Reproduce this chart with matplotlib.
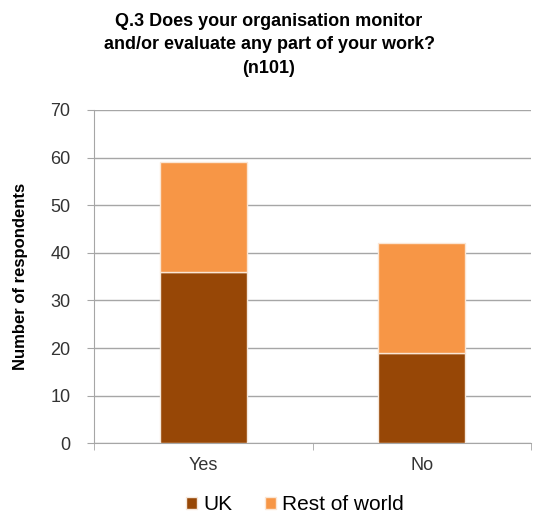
import numpy as np
import matplotlib.pyplot as plt

plt.rcParams['font.family'] = ['Liberation Sans', 'DejaVu Sans']

categories = ['Yes', 'No']
uk = [36, 19]
rest_of_world = [23, 23]

fig = plt.figure(figsize=(5.38, 5.16), dpi=100)
ax = fig.add_axes([0.175, 0.141, 0.812, 0.646])

x = np.arange(len(categories))
ax.bar(x, uk, width=0.4, color='#974706', edgecolor='#f5e8dc', linewidth=1, label='UK', zorder=3)
ax.bar(x, rest_of_world, width=0.4, bottom=uk, color='#F79646', edgecolor='#fbe6d4',
       linewidth=1, label='Rest of world', zorder=3)

ax.set_xlim(-0.5, 1.5)
ax.set_ylim(0, 70)
ax.set_yticks(range(0, 71, 10))
ax.set_xticks(x)
ax.set_xticklabels(categories)
# tick marks sit between categories, like the original
ax.set_xticks([-0.5, 0.5, 1.5], minor=True)
ax.tick_params(axis='x', which='major', length=0, pad=10)
ax.tick_params(axis='x', which='minor', length=5, color='#a6a6a6')
ax.yaxis.grid(True, color='#a6a6a6', linewidth=1, zorder=0)
for s in ['top', 'right']:
    ax.spines[s].set_visible(False)
ax.spines['left'].set_color('#a6a6a6')
ax.spines['bottom'].set_color('#a6a6a6')
ax.tick_params(axis='y', length=5, color='#a6a6a6', pad=12)
ax.tick_params(axis='both', labelsize=13, labelcolor='#333333')

ax.set_ylabel('Number of respondents', fontsize=12, fontweight='bold', labelpad=16)
fig.suptitle('Q.3 Does your organisation monitor\nand/or evaluate any part of your work?\n(n101)',
             fontsize=13, fontweight='bold', y=0.975, linespacing=1.5)

ax.legend(loc='upper center', bbox_to_anchor=(0.46, -0.1), ncol=2, frameon=False,
          fontsize=15, handlelength=0.5, handleheight=0.5, handletextpad=0.3, columnspacing=1.6)

fig.savefig('out.png', dpi=100)
